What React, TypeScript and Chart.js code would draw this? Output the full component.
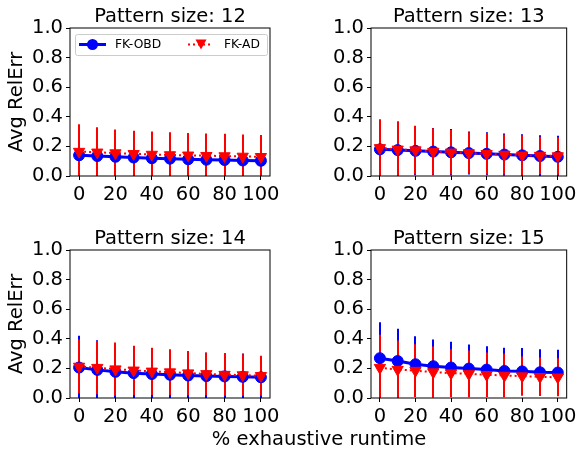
import React, { useEffect, useRef } from 'react';
import { Chart, registerables } from 'chart.js';

Chart.register(...registerables);

const FONT = "'DejaVu Sans', sans-serif";
const FS = 19.5;

const xValues = [0, 10, 20, 30, 40, 50, 60, 70, 80, 90, 100];
const xTicks = [0, 20, 40, 60, 80, 100];
const yTicks = [0, 0.2, 0.4, 0.6, 0.8, 1.0];

const obd12 = [0.14, 0.135, 0.13, 0.125, 0.12, 0.117, 0.113, 0.11, 0.108, 0.105, 0.103];
const obdErr12 = [0.17, 0.16, 0.155, 0.15, 0.148, 0.145, 0.143, 0.14, 0.14, 0.138, 0.136];
const ad12 = [0.165, 0.16, 0.155, 0.15, 0.145, 0.142, 0.14, 0.137, 0.135, 0.132, 0.13];
const adErr12 = [0.185, 0.17, 0.16, 0.155, 0.155, 0.153, 0.15, 0.15, 0.15, 0.148, 0.147];

const obd13 = [0.18, 0.175, 0.17, 0.165, 0.16, 0.155, 0.15, 0.145, 0.14, 0.135, 0.13];
const obdErr13 = [0.18, 0.175, 0.165, 0.16, 0.157, 0.145, 0.145, 0.143, 0.142, 0.14, 0.142];
const ad13 = [0.19, 0.18, 0.175, 0.165, 0.16, 0.155, 0.15, 0.145, 0.14, 0.138, 0.135];
const adErr13 = [0.193, 0.19, 0.165, 0.157, 0.15, 0.14, 0.14, 0.135, 0.135, 0.127, 0.127];

const obd14 = [0.206, 0.19, 0.177, 0.168, 0.162, 0.157, 0.152, 0.148, 0.146, 0.143, 0.14];
const obdErr14 = [0.214, 0.2, 0.193, 0.182, 0.173, 0.168, 0.163, 0.157, 0.157, 0.157, 0.14];
const ad14 = [0.213, 0.205, 0.195, 0.187, 0.18, 0.175, 0.168, 0.163, 0.158, 0.155, 0.15];
const adErr14 = [0.182, 0.18, 0.18, 0.166, 0.16, 0.155, 0.149, 0.145, 0.142, 0.14, 0.135];

const obd15 = [0.269, 0.25, 0.228, 0.215, 0.206, 0.199, 0.192, 0.183, 0.18, 0.174, 0.172];
const obdErr15 = [0.242, 0.218, 0.19, 0.181, 0.174, 0.163, 0.158, 0.156, 0.158, 0.156, 0.154];
const ad15 = [0.205, 0.192, 0.185, 0.175, 0.168, 0.163, 0.157, 0.152, 0.148, 0.143, 0.14];
const adErr15 = [0.223, 0.197, 0.179, 0.173, 0.162, 0.158, 0.15, 0.147, 0.132, 0.13, 0.129];

const seriesNames = ['FK-OBD', 'FK-AD'];
const titles = ['Pattern size: 12', 'Pattern size: 13', 'Pattern size: 14', 'Pattern size: 15'];
const yLabel = 'Avg RelErr';
const xLabel = '% exhaustive runtime';

const BLUE = '#0000ff';
const RED = '#ff0000';

const panels = [
  { title: titles[0], obd: obd12, obdErr: obdErr12, ad: ad12, adErr: adErr12, left: 0, top: 0, yAxisW: 70, rightPad: 20, showY: true, legend: true },
  { title: titles[1], obd: obd13, obdErr: obdErr13, ad: ad13, adErr: adErr13, left: 326, top: 0, yAxisW: 45, rightPad: 9, showY: false, legend: false },
  { title: titles[2], obd: obd14, obdErr: obdErr14, ad: ad14, adErr: adErr14, left: 0, top: 222, yAxisW: 70, rightPad: 20, showY: true, legend: false },
  { title: titles[3], obd: obd15, obdErr: obdErr15, ad: ad15, adErr: adErr15, left: 326, top: 222, yAxisW: 45, rightPad: 9, showY: false, legend: false },
];

const errorBarPlugin = {
  id: 'errorBars',
  beforeDatasetsDraw(chart: any) {
    const { ctx, chartArea, scales } = chart;
    const xs = scales.x;
    const ys = scales.y;
    ctx.save();
    ctx.beginPath();
    ctx.rect(chartArea.left, chartArea.top, chartArea.right - chartArea.left, chartArea.bottom - chartArea.top);
    ctx.clip();
    chart.data.datasets.forEach((ds: any) => {
      ctx.strokeStyle = ds.errorColor;
      ctx.lineWidth = 2;
      ds.data.forEach((pt: any, i: number) => {
        const px = Math.round(xs.getPixelForValue(pt.x));
        ctx.beginPath();
        ctx.moveTo(px, ys.getPixelForValue(pt.y - ds.errors[i]));
        ctx.lineTo(px, ys.getPixelForValue(pt.y + ds.errors[i]));
        ctx.stroke();
      });
    });
    ctx.restore();
  },
};

const framePlugin = {
  id: 'frame',
  afterDatasetsDraw(chart: any) {
    const { ctx, chartArea } = chart;
    ctx.save();
    ctx.strokeStyle = '#000';
    ctx.lineWidth = 1;
    ctx.strokeRect(chartArea.left, chartArea.top, chartArea.right - chartArea.left, chartArea.bottom - chartArea.top);
    ctx.restore();
  },
};

const legendPlugin = {
  id: 'insideLegend',
  afterDraw(chart: any) {
    const opts = chart.options.plugins.insideLegend;
    if (!opts || !opts.show) return;
    const { ctx, chartArea } = chart;
    const bx = chartArea.left + 5;
    const by = chartArea.top + 6;
    const bw = 192;
    const bh = 21;
    ctx.save();
    ctx.fillStyle = 'rgba(255,255,255,0.8)';
    ctx.strokeStyle = '#cccccc';
    ctx.lineWidth = 1;
    ctx.beginPath();
    ctx.roundRect(bx + 0.5, by + 0.5, bw, bh, 2);
    ctx.fill();
    ctx.stroke();
    const cy = by + 10.5;
    ctx.strokeStyle = BLUE;
    ctx.lineWidth = 3;
    ctx.beginPath();
    ctx.moveTo(bx + 4, cy);
    ctx.lineTo(bx + 31, cy);
    ctx.stroke();
    ctx.fillStyle = BLUE;
    ctx.beginPath();
    ctx.arc(bx + 17.5, cy, 5.5, 0, Math.PI * 2);
    ctx.fill();
    ctx.strokeStyle = RED;
    ctx.lineWidth = 2;
    ctx.setLineDash([2, 3]);
    ctx.beginPath();
    ctx.moveTo(bx + 113, cy);
    ctx.lineTo(bx + 138, cy);
    ctx.stroke();
    ctx.setLineDash([]);
    ctx.fillStyle = RED;
    const tx = bx + 126;
    ctx.beginPath();
    ctx.moveTo(tx - 5.5, cy - 5);
    ctx.lineTo(tx + 5.5, cy - 5);
    ctx.lineTo(tx, cy + 5);
    ctx.closePath();
    ctx.fill();
    ctx.fillStyle = '#000';
    ctx.font = `12.3px ${FONT}`;
    ctx.textBaseline = 'middle';
    ctx.textAlign = 'left';
    ctx.fillText(seriesNames[0], bx + 40, cy);
    ctx.fillText(seriesNames[1], bx + 149, cy);
    ctx.restore();
  },
};

function Panel({ p }: { p: any }) {
  const ref = useRef<HTMLCanvasElement>(null);
  useEffect(() => {
    const font = { family: FONT, size: FS, weight: 'normal' as const };
    const chart = new Chart(ref.current as HTMLCanvasElement, {
      type: 'line',
      data: {
        datasets: [
          {
            label: seriesNames[0],
            data: xValues.map((x, i) => ({ x, y: p.obd[i] })),
            errors: p.obdErr,
            errorColor: BLUE,
            borderColor: BLUE,
            backgroundColor: BLUE,
            borderWidth: 3,
            pointStyle: 'circle',
            pointRadius: 5.5,
            pointBorderWidth: 1,
            pointBackgroundColor: BLUE,
            pointBorderColor: BLUE,
            order: 1,
          } as any,
          {
            label: seriesNames[1],
            data: xValues.map((x, i) => ({ x, y: p.ad[i] })),
            errors: p.adErr,
            errorColor: RED,
            borderColor: RED,
            backgroundColor: RED,
            borderWidth: 2,
            borderDash: [2, 3],
            pointStyle: 'triangle',
            pointRotation: 180,
            pointRadius: 6.5,
            pointBorderWidth: 1,
            pointBackgroundColor: RED,
            pointBorderColor: RED,
            order: 0,
          } as any,
        ],
      },
      options: {
        animation: false,
        responsive: false,
        devicePixelRatio: 1,
        layout: { padding: { left: 0, right: p.rightPad, top: 0, bottom: 0 } },
        plugins: {
          legend: { display: false },
          tooltip: { enabled: false },
          title: {
            display: true,
            text: p.title,
            fullSize: false,
            color: '#000',
            font: { ...font, lineHeight: 1 },
            padding: { top: 7.2, bottom: 1.3 },
          },
          insideLegend: { show: p.legend },
        } as any,
        scales: {
          x: {
            type: 'linear',
            min: -5,
            max: 105,
            afterBuildTicks: (s: any) => {
              s.ticks = xTicks.map((v) => ({ value: v }));
            },
            afterFit: (s: any) => {
              s.height = 34;
            },
            ticks: { color: '#000', font, padding: 3, maxRotation: 0, autoSkip: false },
            grid: { display: true, drawOnChartArea: false, drawTicks: true, tickLength: 4, color: '#000' },
            border: { display: false },
          },
          y: {
            type: 'linear',
            min: 0,
            max: 1,
            afterBuildTicks: (s: any) => {
              s.ticks = yTicks.map((v) => ({ value: v }));
            },
            afterFit: (s: any) => {
              s.width = p.yAxisW;
            },
            ticks: {
              color: '#000',
              font,
              padding: 3,
              callback: (v: any) => Number(v).toFixed(1),
            },
            grid: { display: true, drawOnChartArea: false, drawTicks: true, tickLength: 4, color: '#000' },
            border: { display: false },
            title: {
              display: p.showY,
              text: yLabel,
              color: '#000',
              font,
              padding: { top: 5, bottom: 0 },
            },
          },
        },
      },
      plugins: [errorBarPlugin, framePlugin, legendPlugin],
    });
    return () => chart.destroy();
  }, []);
  const w = p.yAxisW + 200 + p.rightPad;
  return (
    <canvas
      ref={ref}
      width={w}
      height={210}
      style={{ position: 'absolute', left: p.left, top: p.top, width: w, height: 210 }}
    />
  );
}

export default function App() {
  return (
    <div style={{ position: 'fixed', left: 0, top: 0, width: 580, height: 453, background: '#fff', overflow: 'hidden' }}>
      {panels.map((p, i) => (
        <Panel key={i} p={p} />
      ))}
      <div
        style={{
          position: 'absolute',
          left: 169,
          width: 300,
          top: 429,
          textAlign: 'center',
          fontFamily: FONT,
          fontSize: FS,
          lineHeight: '20px',
          color: '#000',
        }}
      >
        {xLabel}
      </div>
    </div>
  );
}
